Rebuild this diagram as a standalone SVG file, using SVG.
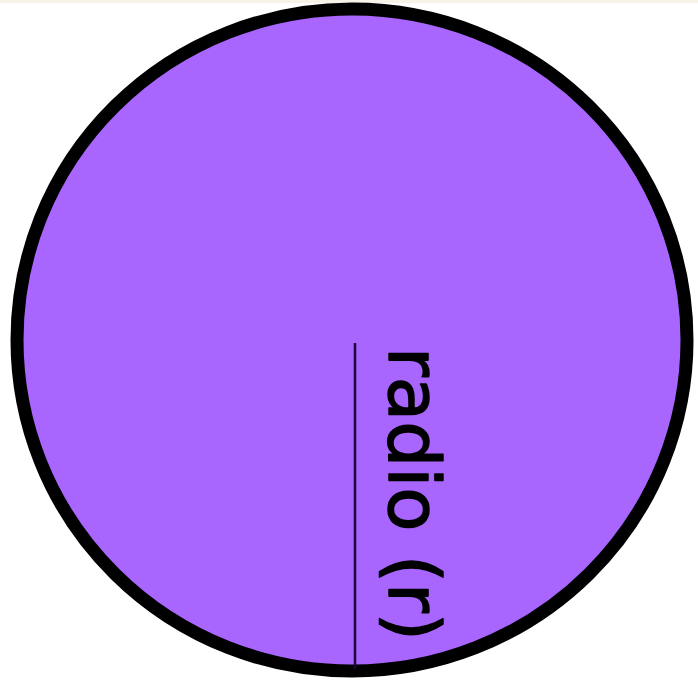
<svg xmlns="http://www.w3.org/2000/svg" width="698" height="685" viewBox="0 0 698 685">
<style>
.lbl{font-family:"DejaVu Sans","Liberation Sans",sans-serif;font-size:72px;fill:#000;stroke:#000;stroke-width:1.5;stroke-linejoin:round}
</style>
<rect x="0" y="0" width="698" height="685" fill="#ffffff"/>
<rect x="0" y="0" width="698" height="3" fill="#f7f2ea"/>
<g id="circle">
<ellipse cx="352" cy="340" rx="335" ry="331" fill="#a866fe" stroke="#000" stroke-width="13"/>
</g>
<g id="radius">
<line x1="355" y1="343" x2="355" y2="669" stroke="#1c0838" stroke-width="2.5"/>
<text class="lbl" transform="translate(389,347) rotate(90)" textLength="294" lengthAdjust="spacingAndGlyphs">radio (r)</text>
</g>
</svg>
